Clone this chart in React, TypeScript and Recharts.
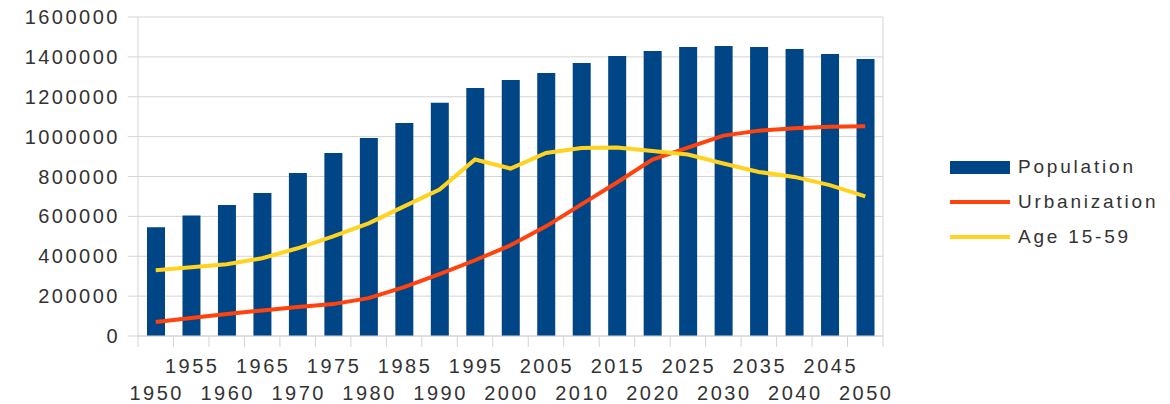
import { ComposedChart, Bar, Line, XAxis, YAxis, CartesianGrid } from "recharts";

const years = [
  "1950", "1955", "1960", "1965", "1970", "1975", "1980", "1985", "1990", "1995", "2000",
  "2005", "2010", "2015", "2020", "2025", "2030", "2035", "2040", "2045", "2050",
];
const population = [
  545000, 605000, 657000, 717000, 817000, 918000, 993000, 1068000, 1170000, 1244000, 1284000,
  1319000, 1369000, 1404000, 1429000, 1450000, 1455000, 1450000, 1440000, 1414000, 1389000,
];
const urbanization = [
  70000, 90000, 110000, 128000, 145000, 160000, 190000, 245000, 310000, 380000, 455000,
  550000, 660000, 770000, 885000, 945000, 1005000, 1030000, 1042000, 1050000, 1052000,
];
const age1559 = [
  330000, 345000, 360000, 390000, 440000, 500000, 565000, 650000, 735000, 885000, 840000,
  918000, 943000, 945000, 928000, 910000, 865000, 823000, 798000, 757000, 700000,
];
const yTicks = [0, 200000, 400000, 600000, 800000, 1000000, 1200000, 1400000, 1600000];

const series = [
  { key: "population", name: "Population", color: "#004586", kind: "bar" },
  { key: "urbanization", name: "Urbanization", color: "#ff420e", kind: "line" },
  { key: "age", name: "Age 15-59", color: "#ffd320", kind: "line" },
];

const data = years.map((year, i) => ({
  year,
  population: population[i],
  urbanization: urbanization[i],
  age: age1559[i],
}));

const FONT = "'Liberation Sans', Arial, sans-serif";
const TEXT = "#333333";
const GRID = "#d4d4d4";

// staggered year labels plus tick marks on the category boundaries
function YearTick(props: any) {
  const { x, y, payload, index } = props;
  const half = payload.offset || 0;
  const last = index === years.length - 1;
  return (
    <g>
      <line x1={x - half} x2={x - half} y1={y} y2={y + 11} stroke={GRID} />
      {last && <line x1={x + half} x2={x + half} y1={y} y2={y + 11} stroke={GRID} />}
      <text
        x={x + 1}
        y={y + (index % 2 === 1 ? 37 : 64)}
        textAnchor="middle"
        fill={TEXT}
        fontFamily={FONT}
        fontSize={20}
        letterSpacing={2.5}
      >
        {payload.value}
      </text>
    </g>
  );
}

function Legend() {
  return (
    <div style={{ position: "absolute", left: 950, top: 149, fontFamily: FONT, color: TEXT }}>
      {series.map((s) => (
        <div key={s.key} style={{ display: "flex", alignItems: "center", height: 35 }}>
          <svg width={60} height={14} style={{ marginRight: 8 }}>
            {s.kind === "bar" ? (
              <rect x={0} y={1} width={60} height={13} fill={s.color} />
            ) : (
              <rect x={0} y={5} width={60} height={4} fill={s.color} />
            )}
          </svg>
          <span style={{ fontSize: 19, letterSpacing: 2.8 }}>{s.name}</span>
        </div>
      ))}
    </div>
  );
}

export default function App() {
  return (
    <div style={{ position: "absolute", left: 0, top: 0, width: 1170, height: 404, background: "#fff" }}>
      <ComposedChart
        width={1170}
        height={404}
        data={data}
        margin={{ top: 17, right: 286, bottom: 8, left: 8 }}
        barSize={18}
      >
        <CartesianGrid vertical={false} stroke={GRID} yAxisId="left" />
        <XAxis
          dataKey="year"
          tick={<YearTick />}
          tickLine={false}
          tickSize={0}
          tickMargin={0}
          interval={0}
          height={60}
          axisLine={{ stroke: GRID }}
        />
        <YAxis
          yAxisId="left"
          domain={[0, 1600000]}
          ticks={yTicks}
          width={130}
          tickSize={10}
          tickMargin={8}
          tickLine={{ stroke: GRID }}
          axisLine={{ stroke: GRID }}
          tick={{ fill: TEXT, fontSize: 20, fontFamily: FONT, letterSpacing: 2.5 }}
        />
        <YAxis
          yAxisId="right"
          orientation="right"
          domain={[0, 1600000]}
          width={1}
          tick={false}
          tickLine={false}
          axisLine={{ stroke: GRID }}
        />
        <Bar yAxisId="left" dataKey="population" name="Population" fill="#004586" isAnimationActive={false} />
        <Line
          yAxisId="left"
          type="linear"
          dataKey="urbanization"
          name="Urbanization"
          stroke="#ff420e"
          strokeWidth={4}
          dot={false}
          isAnimationActive={false}
        />
        <Line
          yAxisId="left"
          type="linear"
          dataKey="age"
          name="Age 15-59"
          stroke="#ffd320"
          strokeWidth={4}
          dot={false}
          isAnimationActive={false}
        />
      </ComposedChart>
      <Legend />
    </div>
  );
}
